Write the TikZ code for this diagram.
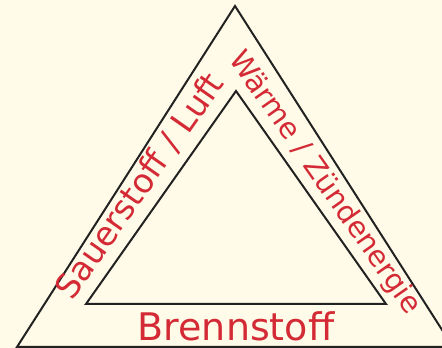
\documentclass[tikz,border=0pt]{standalone}
\usepackage{fontspec}
\setmainfont{DejaVu Sans}
\usepackage{xcolor}
\definecolor{fireRed}{HTML}{D42A35}
\definecolor{fireBack}{HTML}{FFFBE8}
\definecolor{fireLine}{HTML}{222222}
\tikzset{
  triside/.style={draw=fireLine,line width=1.5pt,line join=miter},
  sidetext/.style={text=fireRed,inner sep=0pt,font=\fontsize{#1}{#1}\selectfont},
  sidetext/.default=25
}

\begin{document}
\begin{tikzpicture}[x=0.75pt,y=-0.75pt]

%% -- background and frame ------------------------------------
\fill[fireBack] (0,0) rectangle (442,348);
\useasboundingbox (0,0) rectangle (442,348);
\clip (0,0) rectangle (442,348);

%% -- corners -------------------------------------------------
\coordinate (outerTop)   at (235,6);
\coordinate (outerLeft)  at (17,347);
\coordinate (outerRight) at (453,347);
\coordinate (innerTop)   at (236,91);
\coordinate (innerLeft)  at (86,304);
\coordinate (innerRight) at (386,304);

%% -- triangles -----------------------------------------------
\draw[triside] (outerTop) -- (outerLeft) -- (outerRight) -- cycle;
\draw[triside] (innerTop) -- (innerLeft) -- (innerRight) -- cycle;

%% -- side labels ---------------------------------------------
\node[sidetext=25,rotate=55,anchor=base west] (oxygen) at (72,302) {Sauerstoff / Luft};
\node[sidetext=21.6,rotate=-55,anchor=base west] (heat) at (228,59) {Wärme / Zündenergie};
\node[sidetext=28.5,anchor=base] (fuel) at (236,341) {Brennstoff};

\end{tikzpicture}
\end{document}
